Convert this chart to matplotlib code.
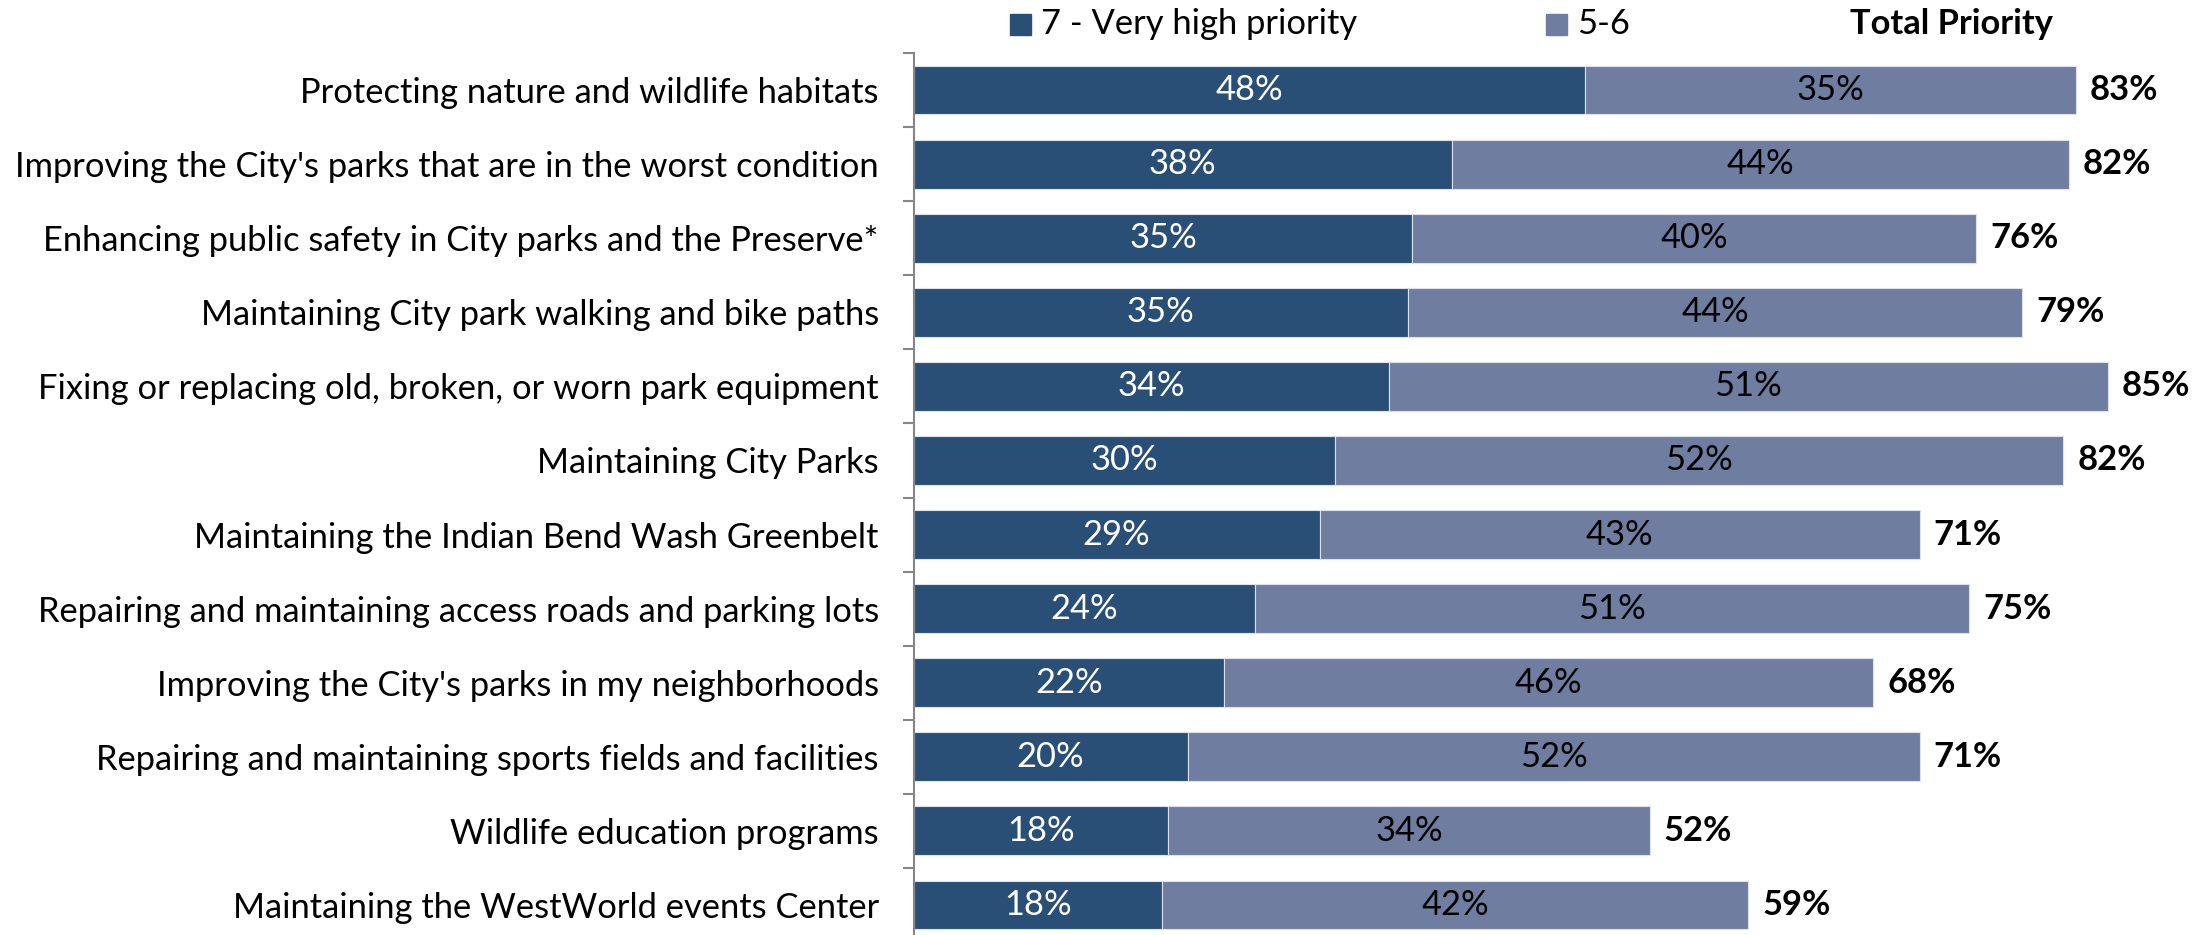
import matplotlib
matplotlib.use("Agg")
import matplotlib.pyplot as plt
import numpy as np
from matplotlib.patches import Rectangle

categories = [
    "Protecting nature and wildlife habitats",
    "Improving the City's parks that are in the worst condition",
    "Enhancing public safety in City parks and the Preserve*",
    "Maintaining City park walking and bike paths",
    "Fixing or replacing old, broken, or worn park equipment",
    "Maintaining City Parks",
    "Maintaining the Indian Bend Wash Greenbelt",
    "Repairing and maintaining access roads and parking lots",
    "Improving the City's parks in my neighborhoods",
    "Repairing and maintaining sports fields and facilities",
    "Wildlife education programs",
    "Maintaining the WestWorld events Center",
]
very_high = [47.8, 38.3, 35.5, 35.2, 33.8, 30.0, 28.9, 24.3, 22.1, 19.5, 18.1, 17.7]
mid = [34.9, 43.9, 40.1, 43.7, 51.2, 51.8, 42.7, 50.8, 46.2, 52.1, 34.3, 41.7]
very_high_labels = [48, 38, 35, 35, 34, 30, 29, 24, 22, 20, 18, 18]
mid_labels = [35, 44, 40, 44, 51, 52, 43, 51, 46, 52, 34, 42]
total_labels = [83, 82, 76, 79, 85, 82, 71, 75, 68, 71, 52, 59]
legend_names = ["7 - Very high priority", "5-6", "Total Priority"]

DARK = "#2A4F77"
LIGHT = "#6E7DA0"
FONT = "Lato"

W, H = 2204, 935
fig = plt.figure(figsize=(W / 100, H / 100), dpi=100)
x0, x1 = 913.5, 2178.5
ytop, ybot = 53, 942
ax = fig.add_axes([x0 / W, 1 - ybot / H, (x1 - x0) / W, (ybot - ytop) / H])
ax.set_xlim(0, 90)
n = len(categories)
ax.set_ylim(n - 0.5, -0.5)

# fit font size so longest label is ~864 px wide
renderer = fig.canvas.get_renderer()
longest = max(categories, key=len)
t = fig.text(0, 0, longest, fontsize=20, family=FONT)
wpx = t.get_window_extent(renderer).width
t.remove()
fs = 20 * 864 / wpx

y = np.arange(n)
ax.barh(y, very_high, height=0.66, color=DARK, edgecolor="#dde1e8", linewidth=0.8)
ax.barh(y, mid, left=very_high, height=0.66, color=LIGHT, edgecolor="#dde1e8", linewidth=0.8)

for i in range(n):
    ax.text(very_high[i] / 2, i, f"{very_high_labels[i]}%", ha="center", va="center",
            color="white", fontsize=fs, family=FONT)
    ax.text(very_high[i] + mid[i] / 2, i, f"{mid_labels[i]}%", ha="center", va="center",
            color="black", fontsize=fs, family=FONT)
    ax.annotate(f"{total_labels[i]}%", (very_high[i] + mid[i], i), xytext=(10, 0),
                textcoords="offset points", ha="left", va="center",
                fontsize=fs, family=FONT, fontweight="bold", color="black")

ax.set_yticks(y)
ax.set_yticklabels(categories, fontsize=fs, family=FONT)
ax.set_yticks(np.arange(-0.5, n), minor=True)
ax.tick_params(axis="y", which="major", length=0, pad=25)
ax.tick_params(axis="y", which="minor", length=8, width=1.5, color="#868686")
ax.set_xticks([])
for s in ["top", "right", "bottom"]:
    ax.spines[s].set_visible(False)
ax.spines["left"].set_color("#868686")
ax.spines["left"].set_linewidth(1.5)

# legend (manual)
ly = 1 - 24.5 / H
sq_w, sq_h = 21 / W, 21 / H
fig.patches.append(Rectangle((1010 / W, ly - sq_h / 2), sq_w, sq_h, transform=fig.transFigure,
                             color=DARK, figure=fig))
fig.text(1041 / W, ly, legend_names[0], ha="left", va="center", fontsize=fs, family=FONT)
fig.patches.append(Rectangle((1546 / W, ly - sq_h / 2), sq_w, sq_h, transform=fig.transFigure,
                             color=LIGHT, figure=fig))
fig.text(1577 / W, ly, legend_names[1], ha="left", va="center", fontsize=fs, family=FONT)
fig.text(1952 / W, ly, legend_names[2], ha="center", va="center", fontsize=fs, family=FONT,
         fontweight="bold")

fig.savefig("out.png", dpi=100)
